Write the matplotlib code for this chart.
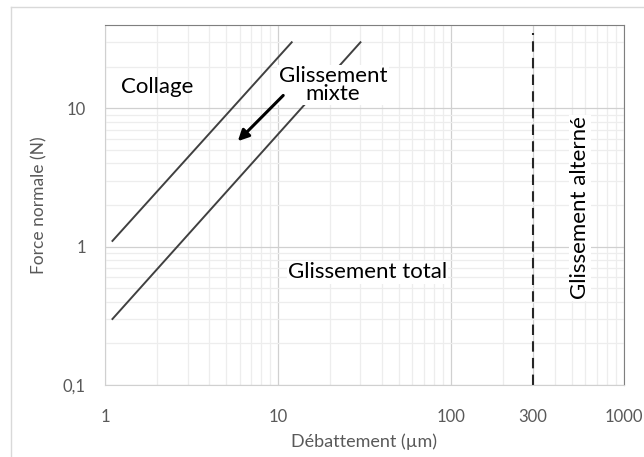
import matplotlib.pyplot as plt
from matplotlib.lines import Line2D
from matplotlib.ticker import FixedLocator, LogLocator, NullFormatter

# limites des domaines
x_collage = [1.1, 12]
y_collage = [1.1, 30]
x_total = [1.1, 30]
y_total = [0.3, 30]
x_alterne = 300
y_alterne = [0.1, 35]

x_ticks = [1, 10, 100, 300, 1000]
x_labels = ['1', '10', '100', '300', '1000']
y_ticks = [0.1, 1, 10]
y_labels = ['0,1', '1', '10']

plt.rcParams['font.family'] = ['Lato', 'DejaVu Sans']

W, H = 644, 457
fig = plt.figure(figsize=(W / 100, H / 100), dpi=100)
ax = fig.add_axes([105.3 / W, 1 - 385 / H, (623.5 - 105.3) / W, (385 - 25) / H])

ax.set_xscale('log')
ax.set_yscale('log')
ax.set_xlim(1, 1000)
ax.set_ylim(0.1, 40)

# grille
ax.xaxis.set_minor_locator(LogLocator(base=10, subs=range(2, 10)))
ax.yaxis.set_minor_locator(LogLocator(base=10, subs=range(2, 10)))
ax.xaxis.set_minor_formatter(NullFormatter())
ax.yaxis.set_minor_formatter(NullFormatter())
ax.grid(True, which='minor', color='#ededed', lw=0.9)
ax.grid(True, which='major', color='#d0d0d0', lw=0.9)
ax.set_axisbelow(True)

ax.xaxis.set_major_locator(FixedLocator(x_ticks))
ax.set_xticks(x_ticks)
ax.set_xticklabels(x_labels)
ax.set_yticks(y_ticks)
ax.set_yticklabels(y_labels)
ax.tick_params(which='both', length=0, labelsize=12, colors='#595959')
ax.tick_params(axis='x', pad=17)
ax.tick_params(axis='y', pad=14)

for s in ['left', 'bottom']:
    ax.spines[s].set_color('#d0d0d0')
for s in ['top', 'right']:
    ax.spines[s].set_color('#7f7f7f')

ax.set_xlabel('Débattement (µm)', fontsize=13, color='#595959', labelpad=6)
ax.set_ylabel('Force normale (N)', fontsize=12.5, color='#595959', labelpad=11)

ax.plot(x_collage, y_collage, color='#404040', lw=1.4)
ax.plot(x_total, y_total, color='#404040', lw=1.4)
ax.plot([x_alterne, x_alterne], y_alterne, color='#262626', lw=1.5, ls=(0, (5, 3)))

box = dict(facecolor='white', edgecolor='none', pad=1)
ax.text(2.0, 14.3, 'Collage', fontsize=16, ha='center', va='center')
ax.text(20.8, 14.7, 'Glissement\nmixte', fontsize=16, ha='center', va='center',
        linespacing=0.85, bbox=box)
ax.text(33, 0.652, 'Glissement total', fontsize=16, ha='center', va='center', bbox=box)
ax.text(561, 1.91, 'Glissement alterné', fontsize=16, ha='center', va='center',
        rotation=90, bbox=box)
ax.annotate('', xy=(5.7, 5.6), xytext=(11, 12.8),
            arrowprops=dict(arrowstyle='-|>', color='black', lw=2.2, mutation_scale=16))

# cadre extérieur du graphique
fig.add_artist(Line2D([11 / W, 1], [1 - 7 / H, 1 - 7 / H], color='#d9d9d9', lw=1))
fig.add_artist(Line2D([11 / W, 11 / W], [0, 1 - 7 / H], color='#d9d9d9', lw=1))

fig.savefig('out.png', dpi=100, facecolor='white')
